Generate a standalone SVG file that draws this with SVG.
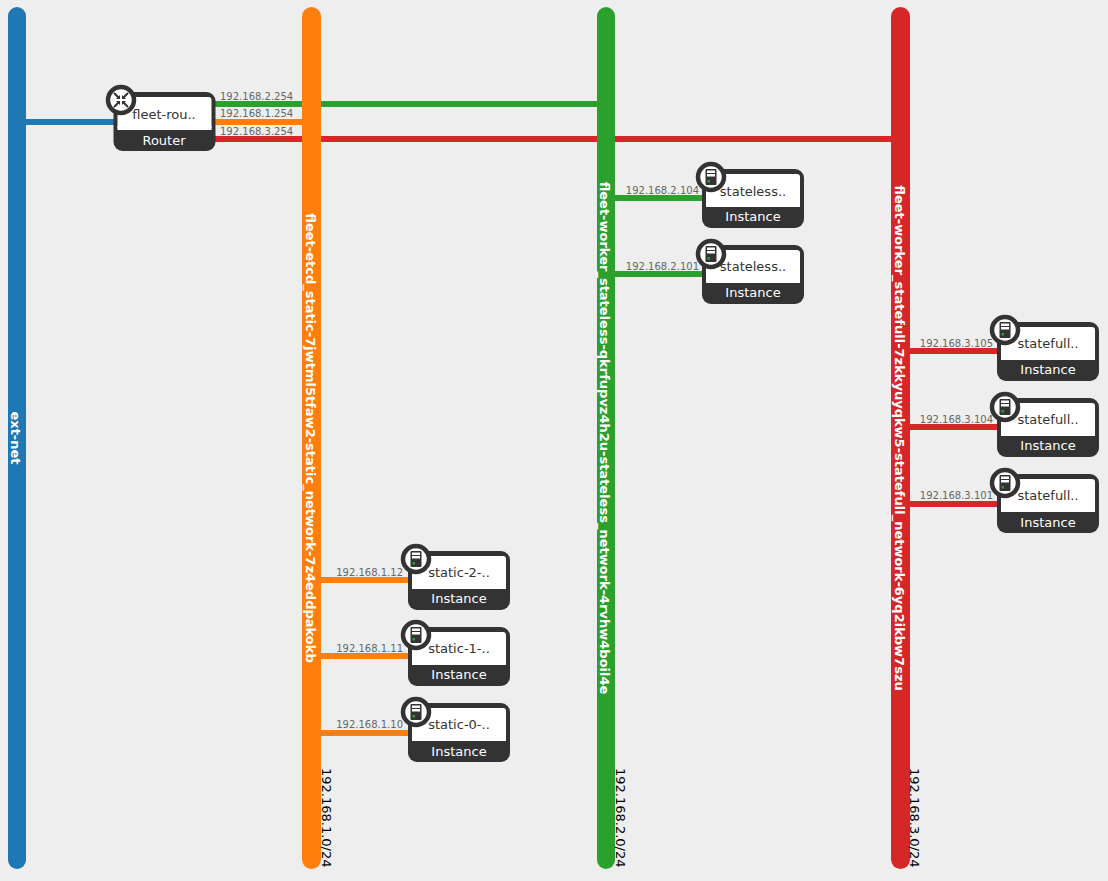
<svg xmlns="http://www.w3.org/2000/svg" width="1108" height="881" viewBox="0 0 1108 881">
<style>
text{font-family:"DejaVu Sans",sans-serif}
.net{stroke:none}
.nl{font-size:13px;font-weight:bold;fill:#fff;text-anchor:middle}
.cidr{font-size:13px;fill:#000}
.ip{font-size:10px;fill:#666}
.ipe{font-size:10px;fill:#666;text-anchor:end}
.box{fill:#333}
.name{font-size:13px;fill:#333;text-anchor:middle}
.type{font-size:13px;fill:#fff;text-anchor:middle}
.blue{stroke:#1f77b4}.orange{stroke:#ff7f0e}.green{stroke:#2ca02c}.red{stroke:#d62728}
#connectors line{stroke-width:6}
.ring{fill:#fff;stroke:#333;stroke-width:4.5}
</style>
<defs>
<g id="srv"><circle r="13" class="ring"/><rect x="-5.5" y="-8" width="11" height="16" rx="1" fill="#333"/><rect x="-4" y="-6.5" width="8" height="2.5" fill="#fff"/><rect x="-4" y="-3" width="8" height="2.5" fill="#fff"/><rect x="-3.5" y="3" width="2.5" height="2.5" fill="#2ca02c"/></g>
<g id="rtr"><circle r="13" class="ring"/><path d="M-7-7L-2-2M7-7L2-2M-7 7L-2 2M7 7L2 2" stroke="#333" stroke-width="2" fill="none"/><path d="M-1-1V-5L-5-1ZM1-1V-5L5-1ZM-1 1V5L-5 1ZM1 1V5L5 1Z" fill="#333"/></g>
<g id="inst"><rect width="102" height="59" rx="9" class="box"/><rect x="4" y="5" width="94" height="33" rx="3" fill="#fff"/><rect x="4" y="34" width="94" height="4" fill="#fff"/></g>
</defs>
<rect width="1108" height="881" fill="#eee"/>
<g id="connectors">
<line class="blue" x1="26" y1="122" x2="114" y2="122"/>
<line class="green" x1="215" y1="104" x2="598" y2="104"/>
<line class="orange" x1="215" y1="122" x2="303" y2="122"/>
<line class="red" x1="215" y1="139" x2="892" y2="139"/>
<line class="green" x1="615" y1="198" x2="703" y2="198"/>
<line class="green" x1="615" y1="274" x2="703" y2="274"/>
<line class="red" x1="909" y1="351" x2="998" y2="351"/>
<line class="red" x1="909" y1="427" x2="998" y2="427"/>
<line class="red" x1="909" y1="504" x2="998" y2="504"/>
<line class="orange" x1="320" y1="580" x2="409" y2="580"/>
<line class="orange" x1="320" y1="656" x2="409" y2="656"/>
<line class="orange" x1="320" y1="733" x2="409" y2="733"/>
</g>
<g id="net-ext"><rect x="8" y="7" width="18" height="862" rx="9" fill="#1f77b4"/><text class="nl" transform="translate(11 438) rotate(90)">ext-net</text></g>
<g id="net-etcd"><rect x="302" y="7" width="19" height="862" rx="9.5" fill="#ff7f0e"/><text class="nl" transform="translate(306 438) rotate(90)">fleet-etcd_static-7jwtml5tfaw2-static_network-7z4eddpakokb</text><text class="cidr" transform="translate(322 768) rotate(90)">192.168.1.0/24</text></g>
<g id="net-stateless"><rect x="597" y="7" width="18" height="862" rx="9" fill="#2ca02c"/><text class="nl" transform="translate(600 438) rotate(90)">fleet-worker_stateless-qkrfupvz4h2u-stateless_network-4rvhw4boil4e</text><text class="cidr" transform="translate(616 768) rotate(90)">192.168.2.0/24</text></g>
<g id="net-statefull"><rect x="891" y="7" width="19" height="862" rx="9.5" fill="#d62728"/><text class="nl" transform="translate(895 438) rotate(90)">fleet-worker_statefull-7zkkyuyqkw5-statefull_network-6yq2ikbw7szu</text><text class="cidr" transform="translate(910 768) rotate(90)">192.168.3.0/24</text></g>
<g id="labels">
<text class="ip" x="220" y="100">192.168.2.254</text>
<text class="ip" x="220" y="117">192.168.1.254</text>
<text class="ip" x="220" y="135">192.168.3.254</text>
<text class="ipe" x="699" y="194">192.168.2.104</text>
<text class="ipe" x="699" y="270">192.168.2.101</text>
<text class="ipe" x="993" y="347">192.168.3.105</text>
<text class="ipe" x="993" y="423">192.168.3.104</text>
<text class="ipe" x="993" y="499">192.168.3.101</text>
<text class="ipe" x="403" y="576">192.168.1.12</text>
<text class="ipe" x="403" y="652">192.168.1.11</text>
<text class="ipe" x="403" y="728">192.168.1.10</text>
</g>
<g id="router"><use href="#inst" x="113.500" y="92"/><use href="#rtr" x="121" y="100"/><text class="name" x="164" y="119">fleet-rou..</text><text class="type" x="164" y="145">Router</text></g>
<g id="stateless-1"><use href="#inst" x="702" y="169"/><use href="#srv" x="711" y="177"/><text class="name" x="753" y="196">stateless..</text><text class="type" x="753" y="221">Instance</text></g>
<g id="stateless-2"><use href="#inst" x="702" y="245"/><use href="#srv" x="711" y="254"/><text class="name" x="753" y="271">stateless..</text><text class="type" x="753" y="297">Instance</text></g>
<g id="statefull-1"><use href="#inst" x="997" y="322"/><use href="#srv" x="1005" y="330"/><text class="name" x="1048" y="348">statefull..</text><text class="type" x="1048" y="374">Instance</text></g>
<g id="statefull-2"><use href="#inst" x="997" y="398"/><use href="#srv" x="1005" y="407"/><text class="name" x="1048" y="424">statefull..</text><text class="type" x="1048" y="450">Instance</text></g>
<g id="statefull-3"><use href="#inst" x="997" y="474"/><use href="#srv" x="1005" y="483"/><text class="name" x="1048" y="500">statefull..</text><text class="type" x="1048" y="527">Instance</text></g>
<g id="static-2"><use href="#inst" x="408" y="551"/><use href="#srv" x="416" y="559"/><text class="name" x="459" y="577">static-2-..</text><text class="type" x="459" y="603">Instance</text></g>
<g id="static-1"><use href="#inst" x="408" y="627"/><use href="#srv" x="416" y="635"/><text class="name" x="459" y="653">static-1-..</text><text class="type" x="459" y="679">Instance</text></g>
<g id="static-0"><use href="#inst" x="408" y="703"/><use href="#srv" x="416" y="712"/><text class="name" x="459" y="729">static-0-..</text><text class="type" x="459" y="756">Instance</text></g>
</svg>
